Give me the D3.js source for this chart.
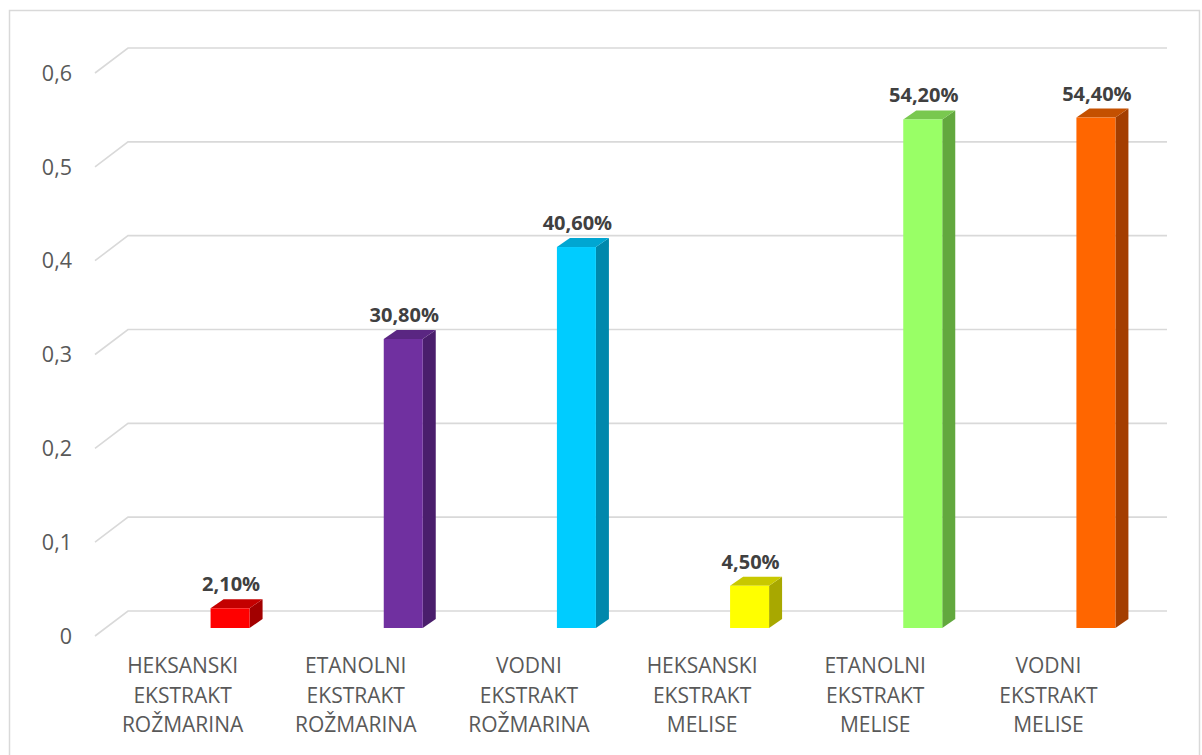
<!DOCTYPE html>
<html><head><meta charset="utf-8">
<script src="https://cdn.jsdelivr.net/npm/d3@7"></script>
<style>html,body{margin:0;padding:0;background:#fff;}svg{display:block;}</style>
</head><body>
<svg id="c" width="1202" height="755"></svg>
<script>
const categories = [
  ["HEKSANSKI","EKSTRAKT","ROŽMARINA"],
  ["ETANOLNI","EKSTRAKT","ROŽMARINA"],
  ["VODNI","EKSTRAKT","ROŽMARINA"],
  ["HEKSANSKI","EKSTRAKT","MELISE"],
  ["ETANOLNI","EKSTRAKT","MELISE"],
  ["VODNI","EKSTRAKT","MELISE"]
];
const values = [0.021, 0.308, 0.406, 0.045, 0.542, 0.544];
const valueLabels = ["2,10%","30,80%","40,60%","4,50%","54,20%","54,40%"];
const frontColors = ["#FF0000","#7030A0","#00CCFF","#FFFF00","#99FF66","#FF6600"];
const topColors   = ["#C40000","#5A2682","#00A6D2","#C8C800","#79C84F","#C45000"];
const sideColors  = ["#A20000","#4A1E6C","#0088AC","#A8A800","#62A83E","#A43E00"];
const yTicks = [0,0.1,0.2,0.3,0.4,0.5,0.6];
const yTickLabels = ["0","0,1","0,2","0,3","0,4","0,5","0,6"];

const svg = d3.select("#c");
svg.append("rect").attr("x",9.5).attr("y",10.5).attr("width",1190).attr("height",760)
  .attr("fill","none").attr("stroke","#D9D9D9").attr("stroke-width",1.5);

const depthX = 33, depthY = -25;
const y = d3.scaleLinear().domain([0,0.6]).range([636,73]);
const idx = categories.map((c,i)=>i);
const x = d3.scaleBand().domain(idx).range([95,1134]);

const g = svg.append("g");
yTicks.forEach((t,i)=>{
  const yf = y(t);
  g.append("path")
    .attr("d", `M95,${yf}L${95+depthX},${yf+depthY}L${1134+depthX},${yf+depthY}`)
    .attr("fill","none").attr("stroke","#D9D9D9").attr("stroke-width",1.6);
  svg.append("text").attr("x",72).attr("y",yf).attr("dy","0.36em")
    .attr("text-anchor","end").attr("font-family","Open Sans, sans-serif")
    .attr("font-size",21.5).attr("fill","#595959").text(yTickLabels[i]);
});

const barW = 39, bdx = 13, bdy = -9, baseOff = -8, shift = 48.5;
const bars = svg.append("g");
values.forEach((v,i)=>{
  const cx = x(i) + x.bandwidth()/2 + shift;
  const x0 = cx - barW/2, x1 = cx + barW/2;
  const yb = y(0) + baseOff, yt = y(v) + baseOff;
  bars.append("path").attr("d",`M${x1},${yb}L${x1+bdx},${yb+bdy}L${x1+bdx},${yt+bdy}L${x1},${yt}Z`)
    .attr("fill",sideColors[i]);
  bars.append("path").attr("d",`M${x0},${yt}L${x0+bdx},${yt+bdy}L${x1+bdx},${yt+bdy}L${x1},${yt}Z`)
    .attr("fill",topColors[i]);
  bars.append("rect").attr("x",x0).attr("y",yt).attr("width",barW).attr("height",yb-yt)
    .attr("fill",frontColors[i]);
  svg.append("text").attr("x",cx+1).attr("y",yt+bdy-8).attr("text-anchor","middle")
    .attr("font-family","Open Sans, sans-serif").attr("font-weight","bold")
    .attr("font-size",20).attr("fill","#404040").text(valueLabels[i]);
});

categories.forEach((lines,i)=>{
  const cx = x(i) + x.bandwidth()/2 + 1;
  const t = svg.append("text").attr("text-anchor","middle")
    .attr("font-family","Open Sans, sans-serif").attr("font-size",21).attr("fill","#595959");
  lines.forEach((l,j)=>{
    t.append("tspan").attr("x",cx).attr("y",673 + j*29.5).text(l);
  });
});
</script>
</body></html>
